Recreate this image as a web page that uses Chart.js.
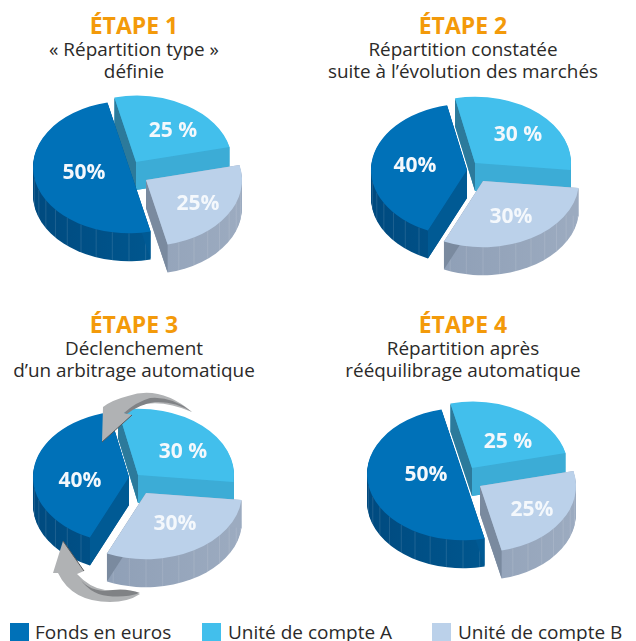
<!DOCTYPE html>
<html lang="fr">
<head>
<meta charset="utf-8">
<title>Étapes du rééquilibrage</title>
<script src="https://cdn.jsdelivr.net/npm/chart.js@4/dist/chart.umd.min.js"></script>
<style>
  html, body { margin: 0; padding: 0; background: #fff; }
  body { position: relative; width: 636px; height: 641px; overflow: hidden; font-family: "Open Sans", sans-serif; color: #2b2a29; }
  canvas { position: absolute; }
  .head { position: absolute; width: 318px; text-align: center; font-size: 18.9px; line-height: 22px; white-space: nowrap; }
  .head b { display: block; color: #f39a0a; font-size: 23px; line-height: 24px; font-weight: 700; margin-top: -1px; margin-bottom: 1px; }
  .key { position: absolute; top: 623px; height: 18px; width: 19px; }
  .keytext { position: absolute; top: 619px; font-size: 19px; line-height: 26px; white-space: nowrap; }
</style>
</head>
<body>
<script>
// Data
const categories = ['Fonds en euros', 'Unité de compte A', 'Unité de compte B'];
const etape1 = [50, 25, 25];
const etape2 = [40, 30, 30];
const etape3 = [40, 30, 30];
const etape4 = [50, 25, 25];
const titres = ['ÉTAPE 1', 'ÉTAPE 2', 'ÉTAPE 3', 'ÉTAPE 4'];
const sousTitres = [
  ['« Répartition type »', 'définie'],
  ['Répartition constatée', 'suite à l’évolution des marchés'],
  ['Déclenchement', 'd’un arbitrage automatique'],
  ['Répartition après', 'rééquilibrage automatique']
];

// Layout, in page pixels
const SQUASH = 0.69;
const DEPTH = 28;
const RADIUS = 96;
const rotations = [167, 204, 204, 167];
const origins = [[0, 85], [318, 85], [0, 385], [318, 385]];
const sizes = [[318, 205], [318, 205], [318, 225], [318, 225]];
const centres = [
  [[129, 167], [136, 162], [146, 180]],
  [[467, 170], [475, 163], [483, 181]],
  [[129, 477], [138, 475], [146, 493]],
  [[463, 474], [472, 468], [480, 486]]
];
const labelPos = [
  [[84, 173], [173, 131], [198, 204]],
  [[415, 166], [518, 135], [511, 217]],
  [[80, 481], [183, 452], [175, 524]],
  [[426, 475], [508, 442], [532, 510]]
];

// Colours per category
const topColors = ['#0071b8', '#42bfec', '#bbd1ea'];
const wallDark = ['#004a7f', '#3aa9d3', '#8a9bb3'];
const wallLight = ['#005e98', '#3caed8', '#9cabc0'];
const startFace = ['#005a94', '#2c7a9b', '#9cabc0'];
const endFace = ['#005a94', '#3cacd6', '#7a8a9f'];

function shadeWall(ctx, i, arc, cx, cy) {
  const grad = ctx.createLinearGradient(cx - RADIUS, 0, cx + RADIUS, 0);
  grad.addColorStop(0, wallDark[i]);
  grad.addColorStop(1, wallLight[i]);
  ctx.fillStyle = grad;
  for (let d = DEPTH; d >= 1; d--) {
    ctx.beginPath();
    ctx.moveTo(cx, cy + d);
    ctx.ellipse(cx, cy + d, arc.outerRadius, arc.outerRadius * SQUASH, 0, arc.startAngle, arc.endAngle);
    ctx.closePath();
    ctx.fill();
  }
  // thin facet lines on the rounded wall
  ctx.strokeStyle = 'rgba(255,255,255,0.17)';
  ctx.lineWidth = 0.7;
  const step = Math.PI / 18;
  for (let a = Math.ceil(arc.startAngle / step) * step; a < arc.endAngle; a += step) {
    if (Math.sin(a) <= 0.02) continue;
    const x = cx + arc.outerRadius * Math.cos(a);
    const y = cy + arc.outerRadius * SQUASH * Math.sin(a);
    ctx.beginPath();
    ctx.moveTo(x, y);
    ctx.lineTo(x, y + DEPTH);
    ctx.stroke();
  }
}

function drawFace(ctx, color, angle, arc, cx, cy) {
  const x = cx + arc.outerRadius * Math.cos(angle);
  const y = cy + arc.outerRadius * SQUASH * Math.sin(angle);
  ctx.fillStyle = color;
  ctx.beginPath();
  ctx.moveTo(cx, cy);
  ctx.lineTo(x, y);
  ctx.lineTo(x, y + DEPTH);
  ctx.lineTo(cx, cy + DEPTH);
  ctx.closePath();
  ctx.fill();
}

// Turns the flat pie into the tilted, pulled apart one
const relief = {
  id: 'relief',
  beforeDatasetDraw(chart) {
    const n = chart.options.plugins.relief.panel;
    const arcs = chart.getDatasetMeta(0).data;
    const ctx = chart.ctx;
    ctx.save();
    ctx.translate(-origins[n][0], -origins[n][1]);
    // back slice first, front slice last
    [1, 0, 2].forEach(i => {
      const arc = arcs[i];
      const cx = centres[n][i][0];
      const cy = centres[n][i][1];
      shadeWall(ctx, i, arc, cx, cy);
      drawFace(ctx, startFace[i], arc.startAngle, arc, cx, cy);
      drawFace(ctx, endFace[i], arc.endAngle, arc, cx, cy);
      ctx.save();
      ctx.translate(cx, cy);
      ctx.scale(1, SQUASH);
      ctx.translate(-arc.x, -arc.y);
      arc.draw(ctx);
      ctx.restore();
    });
    ctx.restore();
    return false;
  },
  afterDatasetsDraw(chart) {
    const n = chart.options.plugins.relief.panel;
    const values = chart.data.datasets[0].data;
    const ctx = chart.ctx;
    ctx.save();
    ctx.translate(-origins[n][0], -origins[n][1]);
    ctx.font = '700 21px "Open Sans", sans-serif';
    ctx.fillStyle = '#f4f8fc';
    ctx.textAlign = 'center';
    ctx.textBaseline = 'middle';
    values.forEach((v, i) => {
      const txt = i === 1 ? v + ' %' : v + '%';
      ctx.fillText(txt, labelPos[n][i][0], labelPos[n][i][1]);
    });
    if (n === 2) drawArrows(ctx);
    ctx.restore();
  }
};

function drawArrows(ctx) {
  // top arrow
  ctx.fillStyle = '#b0b2b4';
  ctx.beginPath();
  ctx.moveTo(192, 412);
  ctx.quadraticCurveTo(160, 385, 128, 396);
  ctx.quadraticCurveTo(112, 400, 103, 407);
  ctx.lineTo(102, 442);
  ctx.lineTo(132, 415);
  ctx.lineTo(124, 413);
  ctx.quadraticCurveTo(150, 394, 192, 412);
  ctx.fill();
  ctx.fillStyle = '#808285';
  ctx.beginPath();
  ctx.moveTo(192, 412);
  ctx.quadraticCurveTo(172, 396, 150, 398);
  ctx.quadraticCurveTo(136, 402, 124, 413);
  ctx.lineTo(127, 414);
  ctx.quadraticCurveTo(140, 404, 155, 402);
  ctx.quadraticCurveTo(175, 401, 192, 412);
  ctx.fill();
  ctx.strokeStyle = '#58595b';
  ctx.lineWidth = 1;
  ctx.beginPath();
  ctx.moveTo(102, 442);
  ctx.lineTo(132, 415);
  ctx.stroke();

  // bottom arrow
  ctx.fillStyle = '#b0b2b4';
  ctx.beginPath();
  ctx.moveTo(140, 594);
  ctx.quadraticCurveTo(118, 590, 105, 590);
  ctx.quadraticCurveTo(90, 588, 77, 574);
  ctx.lineTo(84, 571);
  ctx.lineTo(63, 541);
  ctx.lineTo(53, 573);
  ctx.lineTo(58, 573);
  ctx.quadraticCurveTo(72, 602, 110, 602);
  ctx.quadraticCurveTo(128, 602, 140, 594);
  ctx.fill();
  ctx.fillStyle = '#808285';
  ctx.beginPath();
  ctx.moveTo(77, 574);
  ctx.quadraticCurveTo(85, 590, 105, 591);
  ctx.quadraticCurveTo(125, 587, 140, 593);
  ctx.quadraticCurveTo(125, 598, 108, 596);
  ctx.quadraticCurveTo(88, 594, 77, 574);
  ctx.fill();
  ctx.strokeStyle = '#58595b';
  ctx.beginPath();
  ctx.moveTo(63, 541);
  ctx.lineTo(84, 571);
  ctx.stroke();
}

// Titles above each pie
function addHead(n) {
  const div = document.createElement('div');
  div.className = 'head';
  div.style.left = (n % 2 ? 304 : -25) + 'px';
  div.style.top = (n < 2 ? 14 : 313) + 'px';
  const b = document.createElement('b');
  b.textContent = titres[n];
  div.appendChild(b);
  sousTitres[n].forEach(line => {
    const row = document.createElement('div');
    row.textContent = line;
    div.appendChild(row);
  });
  document.body.appendChild(div);
}

function addPie(n, values) {
  const canvas = document.createElement('canvas');
  canvas.width = sizes[n][0];
  canvas.height = sizes[n][1];
  canvas.style.left = origins[n][0] + 'px';
  canvas.style.top = origins[n][1] + 'px';
  document.body.appendChild(canvas);

  new Chart(canvas.getContext('2d'), {
    type: 'pie',
    data: {
      labels: categories,
      datasets: [{
        data: values,
        backgroundColor: topColors,
        borderWidth: 0,
        radius: RADIUS
      }]
    },
    options: {
      responsive: false,
      animation: false,
      rotation: rotations[n],
      events: [],
      plugins: {
        legend: { display: false },
        tooltip: { enabled: false },
        relief: { panel: n }
      }
    },
    plugins: [relief]
  });
}

// Legend along the bottom
function addLegend() {
  const keyX = [10, 202, 432];
  const textX = [35, 228, 458];
  categories.forEach((name, i) => {
    const key = document.createElement('div');
    key.className = 'key';
    key.style.left = keyX[i] + 'px';
    key.style.background = topColors[i];
    document.body.appendChild(key);
    const txt = document.createElement('div');
    txt.className = 'keytext';
    txt.style.left = textX[i] + 'px';
    txt.textContent = name;
    document.body.appendChild(txt);
  });
}

[etape1, etape2, etape3, etape4].forEach((values, n) => {
  addPie(n, values);
  addHead(n);
});
addLegend();
</script>
</body>
</html>
